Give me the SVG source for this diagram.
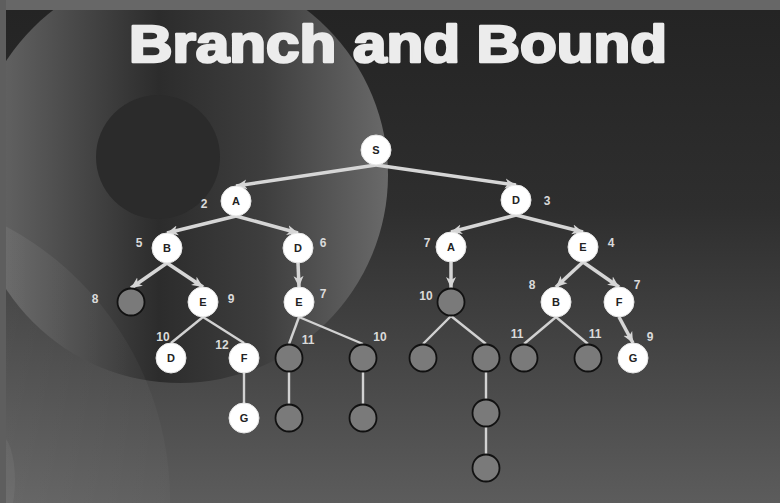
<svg xmlns="http://www.w3.org/2000/svg" width="780" height="503" viewBox="0 0 780 503">
<defs>
<linearGradient id="bg" x1="0" y1="10" x2="0" y2="503" gradientUnits="userSpaceOnUse">
<stop offset="0" stop-color="#242424"/><stop offset="0.4" stop-color="#2e2e2e"/><stop offset="1" stop-color="#5c5c5c"/>
</linearGradient>
<linearGradient id="disk" x1="-30" y1="0" x2="390" y2="0" gradientUnits="userSpaceOnUse">
<stop offset="0" stop-color="#6c6c6c"/><stop offset="0.15" stop-color="#575757"/><stop offset="0.45" stop-color="#2c2c2c"/><stop offset="0.7" stop-color="#3e3e3e"/><stop offset="1" stop-color="#6a6a6a"/>
</linearGradient>
<linearGradient id="low" x1="0" y1="0" x2="175" y2="0" gradientUnits="userSpaceOnUse">
<stop offset="0" stop-color="#ffffff" stop-opacity="0.07"/><stop offset="1" stop-color="#ffffff" stop-opacity="0.025"/>
</linearGradient>
<marker id="ah" markerUnits="userSpaceOnUse" markerWidth="12" markerHeight="12" refX="11" refY="6" orient="auto" viewBox="0 0 12 12">
<path d="M0,1 L11,6 L0,11 L3,6 z" fill="#d6d6d6"/>
</marker>
<style>
.title{font-family:"Liberation Sans",Arial,sans-serif;font-weight:bold;font-size:51px;fill:#ececec;stroke:#ececec;stroke-width:2.5px;stroke-linejoin:round}
.w{fill:#ffffff;stroke:#e6e6e6;stroke-width:1}
.g{fill:#7a7a7a;stroke:#111111;stroke-width:1.8}
.lt{font-family:"Liberation Sans",Arial,sans-serif;font-weight:bold;font-size:11px;fill:#222222;text-anchor:middle}
.num{font-family:"Liberation Sans",Arial,sans-serif;font-weight:bold;font-size:12px;fill:#dadada;text-anchor:middle}
.arr{stroke:#d6d6d6;stroke-width:3.5;fill:none;marker-end:url(#ah)}
.ln{stroke:#d2d2d2;stroke-width:2.4;fill:none}
</style>
</defs>
<g id="background">
<rect x="0" y="0" width="780" height="503" fill="url(#bg)"/>
<circle cx="180" cy="175" r="208" fill="url(#disk)"/>
<circle cx="158" cy="157" r="62" fill="#2b2b2b"/>
<circle cx="-140" cy="500" r="310" fill="url(#low)"/>
<ellipse cx="0" cy="480" rx="15" ry="45" fill="#ffffff" fill-opacity="0.05"/>
<rect x="0" y="0" width="780" height="10" fill="#676767"/>
<rect x="0" y="0" width="6" height="503" fill="#5e5e5e"/>
</g>
<text class="title" x="129" y="62" textLength="538" lengthAdjust="spacingAndGlyphs">Branch and Bound</text>
<g id="connectors">
<path class="arr" d="M376,165 L236,186"/>
<path class="arr" d="M376,165 L516,185"/>
<path class="arr" d="M236,216 L167,233"/>
<path class="arr" d="M236,216 L298,233"/>
<path class="arr" d="M167,263 L131,288"/>
<path class="arr" d="M167,263 L203,287"/>
<path class="arr" d="M298,263 L299,287"/>
<path class="arr" d="M516,215 L451,232"/>
<path class="arr" d="M516,215 L583,232"/>
<path class="arr" d="M451,262 L451,288"/>
<path class="arr" d="M583,262 L556,287"/>
<path class="arr" d="M583,262 L619,287"/>
<path class="arr" d="M619,317 L633,343"/>
<path class="ln" d="M203,317 L171,343"/>
<path class="ln" d="M203,317 L244,343"/>
<path class="ln" d="M244,373 L244,403"/>
<path class="ln" d="M299,317 L289,344"/>
<path class="ln" d="M299,317 L363,344"/>
<path class="ln" d="M289,372 L289,404"/>
<path class="ln" d="M363,372 L363,404"/>
<path class="ln" d="M451,316 L423,344"/>
<path class="ln" d="M451,316 L486,344"/>
<path class="ln" d="M486,372 L486,399"/>
<path class="ln" d="M486,427 L486,454"/>
<path class="ln" d="M556,317 L524,344"/>
<path class="ln" d="M556,317 L588,344"/>
</g>
<g id="n-S"><circle class="w" cx="376" cy="150" r="15"/><text class="lt" x="376" y="154">S</text></g>
<g id="n-A"><circle class="w" cx="236" cy="201" r="15"/><text class="lt" x="236" y="205">A</text><text class="num" x="204" y="208">2</text></g>
<g id="n-D"><circle class="w" cx="516" cy="200" r="15"/><text class="lt" x="516" y="204">D</text><text class="num" x="547" y="205">3</text></g>
<g id="n-B"><circle class="w" cx="167" cy="248" r="15"/><text class="lt" x="167" y="252">B</text><text class="num" x="139" y="247">5</text></g>
<g id="n-D2"><circle class="w" cx="298" cy="248" r="15"/><text class="lt" x="298" y="252">D</text><text class="num" x="323" y="247">6</text></g>
<g id="n-A2"><circle class="w" cx="451" cy="247" r="15"/><text class="lt" x="451" y="251">A</text><text class="num" x="427" y="247">7</text></g>
<g id="n-E2"><circle class="w" cx="583" cy="247" r="15"/><text class="lt" x="583" y="251">E</text><text class="num" x="611" y="247">4</text></g>
<g id="n-g1"><circle class="g" cx="131" cy="302" r="13.5"/><text class="num" x="95" y="303">8</text></g>
<g id="n-E1"><circle class="w" cx="203" cy="302" r="15"/><text class="lt" x="203" y="306">E</text><text class="num" x="231" y="303">9</text></g>
<g id="n-E3"><circle class="w" cx="299" cy="302" r="15"/><text class="lt" x="299" y="306">E</text><text class="num" x="323" y="298">7</text></g>
<g id="n-g10"><circle class="g" cx="451" cy="302" r="13.5"/><text class="num" x="426" y="300">10</text></g>
<g id="n-B2"><circle class="w" cx="556" cy="302" r="15"/><text class="lt" x="556" y="306">B</text><text class="num" x="532" y="289">8</text></g>
<g id="n-F2"><circle class="w" cx="619" cy="302" r="15"/><text class="lt" x="619" y="306">F</text><text class="num" x="637" y="289">7</text></g>
<g id="n-D3"><circle class="w" cx="171" cy="358" r="15"/><text class="lt" x="171" y="362">D</text><text class="num" x="163" y="341">10</text></g>
<g id="n-F1"><circle class="w" cx="244" cy="358" r="15"/><text class="lt" x="244" y="362">F</text><text class="num" x="222" y="349">12</text></g>
<g id="n-g3a"><circle class="g" cx="289" cy="358" r="13.5"/><text class="num" x="308" y="344">11</text></g>
<g id="n-g3b"><circle class="g" cx="363" cy="358" r="13.5"/><text class="num" x="380" y="341">10</text></g>
<g id="n-g3c"><circle class="g" cx="423" cy="358" r="13.5"/></g>
<g id="n-g3d"><circle class="g" cx="486" cy="358" r="13.5"/></g>
<g id="n-g3e"><circle class="g" cx="524" cy="358" r="13.5"/><text class="num" x="517" y="338">11</text></g>
<g id="n-g3f"><circle class="g" cx="588" cy="358" r="13.5"/><text class="num" x="595" y="338">11</text></g>
<g id="n-G2"><circle class="w" cx="633" cy="358" r="15"/><text class="lt" x="633" y="362">G</text><text class="num" x="650" y="341">9</text></g>
<g id="n-G1"><circle class="w" cx="244" cy="418" r="15"/><text class="lt" x="244" y="422">G</text></g>
<g id="n-g4a"><circle class="g" cx="289" cy="418" r="13.5"/></g>
<g id="n-g4b"><circle class="g" cx="363" cy="418" r="13.5"/></g>
<g id="n-g4c"><circle class="g" cx="486" cy="413" r="13.5"/></g>
<g id="n-g5"><circle class="g" cx="486" cy="468" r="13.5"/></g>
</svg>
